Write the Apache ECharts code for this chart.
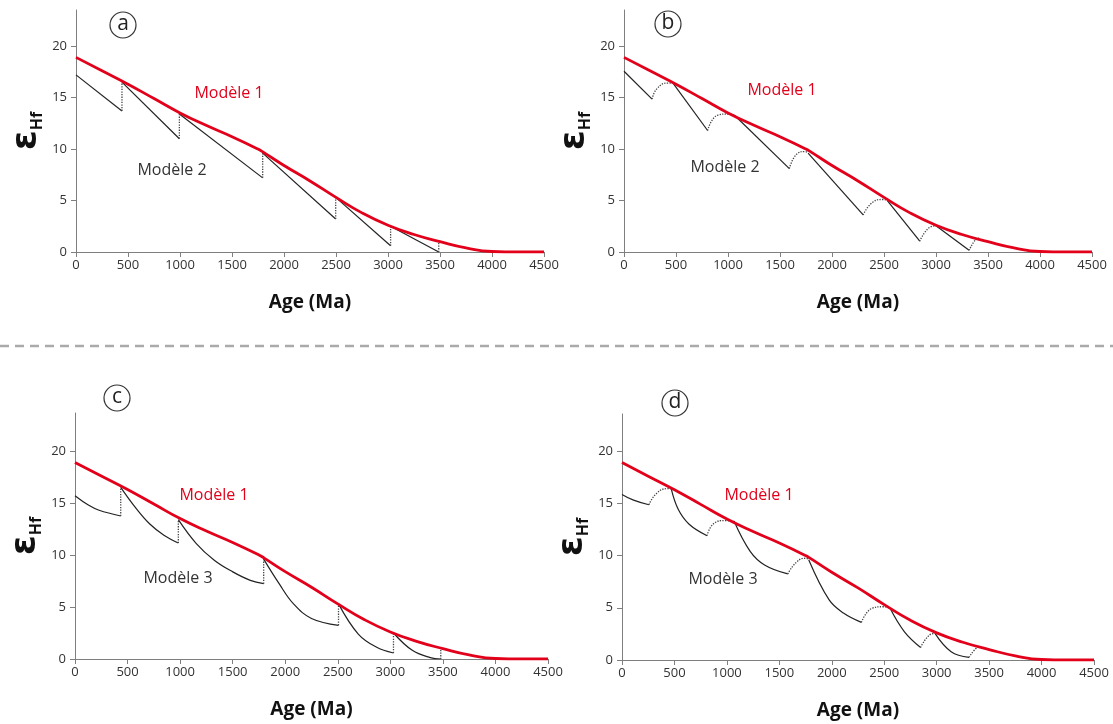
<!DOCTYPE html>
<html>
<head>
<meta charset="utf-8">
<script src="https://cdn.jsdelivr.net/npm/echarts@6/dist/echarts.min.js"></script>
<style>
  html, body { margin: 0; padding: 0; background: #fff; }
  #chart { width: 1113px; height: 724px; }
</style>
</head>
<body>
<div id="chart"></div>
<script>
// Modèle 1 (courbe rouge, commune aux 4 panneaux)
var ages1 = [0, 250, 500, 750, 1000, 1250, 1500, 1750, 1800, 2000, 2250, 2500, 2750, 3000, 3250, 3500, 3750, 4000, 4250, 4500];
var model1 = [18.9, 17.6, 16.3, 14.9, 13.5, 12.3, 11.2, 10.0, 9.7, 8.4, 6.9, 5.3, 3.8, 2.6, 1.7, 1.0, 0.4, 0.05, 0, 0];

// panneau a : Modèle 2, sauts verticaux
var segA = [
  [[0, 17.2], [442, 13.7]],
  [[442, 16.5], [994, 11.0]],
  [[994, 13.4], [1795, 7.2]],
  [[1795, 9.6], [2497, 3.2]],
  [[2497, 5.3], [3025, 0.6]],
  [[3025, 2.5], [3488, 0]]
];
var jumpAgesA = [442, 994, 1795, 2497, 3025, 3488];
var jumpLowA = [13.7, 11.0, 7.2, 3.2, 0.6, 0];
var jumpHighA = [16.5, 13.4, 9.6, 5.3, 2.5, 1.0];

// panneau b : Modèle 2, remontées en pointillés
var segB = [
  [[0, 17.55], [270, 14.85]],
  [[471, 16.4], [804, 11.8]],
  [[1060, 13.3], [1590, 8.1]],
  [[1770, 9.6], [2300, 3.6]],
  [[2532, 5.0], [2844, 1.05]],
  [[3000, 2.55], [3318, 0.16]]
];
var humpB = [
  [[270, 14.85], [320, 15.9], [419, 16.4], [471, 16.4]],
  [[804, 11.8], [904, 13.3], [1008, 13.4], [1060, 13.3]],
  [[1590, 8.1], [1666, 9.55], [1740, 9.75], [1770, 9.6]],
  [[2300, 3.6], [2394, 4.85], [2490, 5.1], [2532, 5.0]],
  [[2844, 1.05], [2930, 2.33], [3000, 2.55]],
  [[3318, 0.16], [3380, 1.2], [3415, 1.36]]
];

// panneau c : Modèle 3, sauts verticaux
var segC = [
  [[0, 15.7], [127, 14.8], [229, 14.3], [435, 13.75]],
  [[435, 16.5], [572, 14.6], [709, 13.0], [846, 11.9], [983, 11.15]],
  [[983, 13.4], [1154, 11.1], [1325, 9.5], [1497, 8.4], [1668, 7.56], [1795, 7.24]],
  [[1795, 9.6], [1942, 7.24], [2079, 5.3], [2250, 3.9], [2507, 3.24]],
  [[2507, 5.3], [2695, 2.4], [2866, 1.15], [3030, 0.58]],
  [[3030, 2.5], [3209, 0.83], [3380, 0.13], [3480, 0]]
];
var jumpAgesC = [435, 983, 1795, 2507, 3030, 3480];
var jumpLowC = [13.75, 11.15, 7.24, 3.24, 0.58, 0];
var jumpHighC = [16.5, 13.4, 9.6, 5.3, 2.5, 1.0];

// panneau d : Modèle 3, remontées en pointillés
var segD = [
  [[0, 15.85], [110, 15.3], [257, 14.86]],
  [[469, 16.4], [537, 14.4], [640, 13.0], [811, 11.9]],
  [[1068, 13.3], [1222, 10.4], [1359, 9.1], [1581, 8.24]],
  [[1780, 9.6], [1975, 5.75], [2111, 4.5], [2283, 3.6]],
  [[2556, 4.95], [2693, 2.7], [2847, 1.2]],
  [[2984, 2.55], [3138, 0.8], [3309, 0.26]]
];
var humpD = [
  [[257, 14.86], [332, 15.97], [435, 16.4], [469, 16.4]],
  [[811, 11.9], [880, 13.1], [982, 13.35], [1068, 13.26]],
  [[1581, 8.24], [1667, 9.4], [1752, 9.74], [1780, 9.6]],
  [[2283, 3.6], [2385, 4.95], [2488, 5.1], [2556, 4.95]],
  [[2847, 1.2], [2933, 2.4], [2984, 2.55]],
  [[3309, 0.26], [3360, 0.96], [3400, 1.3]]
];

var xTicks = [0, 500, 1000, 1500, 2000, 2500, 3000, 3500, 4000, 4500];
var yTicks = [0, 5, 10, 15, 20];

var RED = "#e2001a";
var FONT = "Open Sans";

var grids = [
  { left: 76, top: 10, width: 468, height: 242 },
  { left: 624, top: 10, width: 468, height: 242 },
  { left: 75, top: 413, width: 473, height: 246 },
  { left: 622, top: 414, width: 472, height: 246 }
];
var yMax = [23.5, 23.5, 23.65, 23.55];

var xAxes = [], yAxes = [], series = [];
grids.forEach(function (g, i) {
  xAxes.push({
    gridIndex: i, type: "value", min: 0, max: 4500, interval: 500,
    name: "Age (Ma)", nameLocation: "middle", nameGap: 41,
    nameTextStyle: { fontSize: 19, fontWeight: "bold", color: "#111", fontFamily: FONT },
    axisLine: { show: true, lineStyle: { color: "#7f7f7f", width: 1 } },
    axisTick: { show: true, length: 5, lineStyle: { color: "#7f7f7f" } },
    axisLabel: {
      color: "#333", fontSize: 13, margin: 7, fontFamily: FONT, customValues: xTicks,
      formatter: function (v) { return String(v); }
    },
    splitLine: { show: false }
  });
  yAxes.push({
    gridIndex: i, type: "value", min: 0, max: yMax[i],
    name: "{e|ε}{s|Hf}", nameLocation: "middle", nameGap: 31, nameRotate: 90,
    nameTextStyle: {
      color: "#111",
      rich: {
        e: { fontSize: 36, fontWeight: "bold", fontFamily: "DejaVu Sans", color: "#111", verticalAlign: "bottom", lineHeight: 36 },
        s: { fontSize: 16, fontWeight: "bold", fontFamily: FONT, color: "#111", verticalAlign: "bottom", lineHeight: 36, padding: [14, 0, 0, 0] }
      }
    },
    axisLine: { show: true, lineStyle: { color: "#7f7f7f", width: 1 } },
    axisTick: { show: true, length: 5, customValues: yTicks, lineStyle: { color: "#7f7f7f" } },
    axisLabel: { color: "#333", fontSize: 13, margin: 9, fontFamily: FONT, customValues: yTicks },
    splitLine: { show: false }
  });
  series.push({
    type: "line", xAxisIndex: i, yAxisIndex: i, z: 5,
    data: ages1.map(function (a, k) { return [a, model1[k]]; }),
    smooth: 0.5, showSymbol: false, silent: true,
    lineStyle: { color: RED, width: 2.8 }
  });
});

function addSeg(i, pts, dotted, smooth) {
  series.push({
    type: "line", xAxisIndex: i, yAxisIndex: i, z: 3,
    data: pts, smooth: smooth, showSymbol: false, silent: true,
    lineStyle: { color: dotted ? "#444" : "#222", width: dotted ? 1.3 : 1.2, type: dotted ? "dotted" : "solid" }
  });
}
function addJumps(i, ages, low, high) {
  ages.forEach(function (a, k) { addSeg(i, [[a, low[k]], [a, high[k]]], true, false); });
}

segA.forEach(function (s) { addSeg(0, s, false, false); });
addJumps(0, jumpAgesA, jumpLowA, jumpHighA);
segB.forEach(function (s) { addSeg(1, s, false, false); });
humpB.forEach(function (s) { addSeg(1, s, true, 0.5); });
segC.forEach(function (s) { addSeg(2, s, false, 0.4); });
addJumps(2, jumpAgesC, jumpLowC, jumpHighC);
segD.forEach(function (s) { addSeg(3, s, false, 0.4); });
humpD.forEach(function (s) { addSeg(3, s, true, 0.5); });

function label(x, y, txt, color) {
  return { type: "text", x: x, y: y, z: 10,
    style: { text: txt, fill: color, font: "16px '" + FONT + "'", align: "center", verticalAlign: "middle" } };
}
function circled(x, y, letter) {
  return [
    { type: "circle", shape: { cx: x, cy: y, r: 13 }, z: 10, style: { fill: "#fff", stroke: "#333", lineWidth: 1.2 } },
    { type: "text", x: x, y: y - 1, z: 11, style: { text: letter, fill: "#222", font: "21px '" + FONT + "'", align: "center", verticalAlign: "middle" } }
  ];
}

var graphics = [
  { type: "line", shape: { x1: 0, y1: 346, x2: 1113, y2: 346 }, style: { stroke: "#aaaaaa", lineWidth: 2.5, lineDash: [9, 6] } },
  label(229, 93, "Modèle 1", RED), label(172, 170, "Modèle 2", "#333"),
  label(782, 90, "Modèle 1", RED), label(725, 167, "Modèle 2", "#333"),
  label(214, 495, "Modèle 1", RED), label(178, 578, "Modèle 3", "#333"),
  label(759, 495, "Modèle 1", RED), label(723, 579, "Modèle 3", "#333")
].concat(circled(123, 25, "a"), circled(668, 24, "b"), circled(117, 398, "c"), circled(675, 403, "d"));

var myChart = echarts.init(document.getElementById("chart"));
myChart.setOption({
  animation: false,
  backgroundColor: "#fff",
  grid: grids,
  xAxis: xAxes,
  yAxis: yAxes,
  series: series,
  graphic: graphics
});
</script>
</body>
</html>
